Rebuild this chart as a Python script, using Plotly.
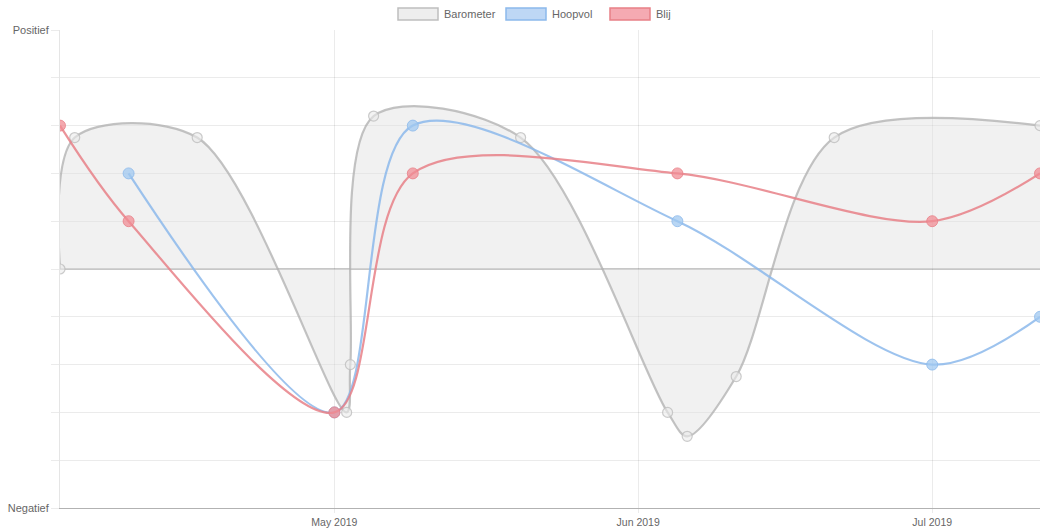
import plotly.graph_objects as go

# ---- data ----
baro_dates = ["2019-04-03", "2019-04-04 12:00", "2019-04-17", "2019-05-02 06:00",
              "2019-05-02 15:00", "2019-05-05", "2019-05-20", "2019-06-04",
              "2019-06-06", "2019-06-11", "2019-06-21", "2019-07-12"]
baro_vals = [0, 2.75, 2.75, -3, -2, 3.2, 2.75, -3, -3.5, -2.25, 2.75, 3]

hoop_dates = ["2019-04-10", "2019-05-01", "2019-05-09", "2019-06-05", "2019-07-01", "2019-07-12"]
hoop_vals = [2, -3, 3, 1, -2, -1]

blij_dates = ["2019-04-03", "2019-04-10", "2019-05-01", "2019-05-09", "2019-06-05", "2019-07-01", "2019-07-12"]
blij_vals = [3, 1, -3, 2, 2, 1, 2]

series_names = ["Barometer", "Hoopvol", "Blij"]
month_ticks = ["2019-05-01", "2019-06-01", "2019-07-01"]
month_labels = ["May 2019", "Jun 2019", "Jul 2019"]
y_ticks = [-5, -4, -3, -2, -1, 0, 1, 2, 3, 4, 5]
y_labels = ["Negatief", "", "", "", "", "", "", "", "", "", "Positief"]

W, H = 1044, 529
L, R, T, B = 60, 4, 30, 21

fig = go.Figure()

fig.add_trace(go.Scatter(
    x=baro_dates, y=baro_vals, name=series_names[0], mode="lines+markers",
    line=dict(color="rgba(175,175,175,0.75)", width=2.2, shape="spline", smoothing=0.9),
    fill="tozeroy", fillcolor="rgba(225,225,225,0.45)",
    marker=dict(size=10, color="rgba(235,235,235,0.6)",
                line=dict(color="rgba(190,190,190,0.8)", width=1.2)),
    hoverinfo="skip"))

fig.add_trace(go.Scatter(
    x=hoop_dates, y=hoop_vals, name=series_names[1], mode="lines+markers",
    line=dict(color="rgba(140,185,235,0.85)", width=2.2, shape="spline", smoothing=0.9),
    marker=dict(size=11, color="rgba(160,200,240,0.75)",
                line=dict(color="rgba(140,185,235,0.8)", width=1)),
    hoverinfo="skip"))

fig.add_trace(go.Scatter(
    x=blij_dates, y=blij_vals, name=series_names[2], mode="lines+markers",
    line=dict(color="rgba(232,128,135,0.85)", width=2.2, shape="spline", smoothing=0.9),
    marker=dict(size=11, color="rgba(240,140,148,0.75)",
                line=dict(color="rgba(232,128,135,0.8)", width=1)),
    hoverinfo="skip"))

# manual Chart.js-like legend
def px_x(p):
    return (p - L) / (W - L - R)

def px_y(p):
    return (H - B - p) / (H - T - B)

legend_items = [
    (398, "rgba(238,238,238,1)", "rgba(190,190,190,1)", series_names[0]),
    (506, "rgba(190,215,245,1)", "rgba(140,185,235,1)", series_names[1]),
    (610, "rgba(245,170,178,1)", "rgba(232,128,135,1)", series_names[2]),
]
shapes = []
annotations = []
for x0, fc, lc, name in legend_items:
    shapes.append(dict(type="rect", xref="paper", yref="paper",
                       x0=px_x(x0), x1=px_x(x0 + 40), y0=px_y(20), y1=px_y(8),
                       fillcolor=fc, line=dict(color=lc, width=1.5), layer="above"))
    annotations.append(dict(xref="paper", yref="paper", x=px_x(x0 + 44), y=px_y(14),
                            text=name, showarrow=False, xanchor="left", yanchor="middle",
                            font=dict(size=11, color="#666666")))

fig.update_layout(
    width=W, height=H,
    margin=dict(l=L, r=R, t=T, b=B),
    paper_bgcolor="white", plot_bgcolor="white",
    showlegend=False,
    font=dict(family="Liberation Sans, Arial, sans-serif", size=11, color="#666666"),
    shapes=shapes, annotations=annotations,
    xaxis=dict(type="date", range=["2019-04-03", "2019-07-12"],
               tickvals=month_ticks, ticktext=month_labels,
               showgrid=True, gridcolor="rgba(0,0,0,0.08)", gridwidth=1,
               ticks="outside", ticklen=4, tickcolor="rgba(0,0,0,0.08)",
               showline=True, linecolor="rgba(0,0,0,0.3)", linewidth=1,
               zeroline=False, automargin=False, fixedrange=True,
               tickfont=dict(size=10.5, color="#666666")),
    yaxis=dict(range=[-5, 5], tickvals=y_ticks, ticktext=y_labels,
               showgrid=True, gridcolor="rgba(0,0,0,0.08)", gridwidth=1,
               ticks="outside", ticklen=8, tickcolor="rgba(0,0,0,0.08)",
               showline=True, linecolor="rgba(0,0,0,0.1)", linewidth=1,
               zeroline=True, zerolinecolor="rgba(0,0,0,0.22)", zerolinewidth=2,
               automargin=False, fixedrange=True,
               tickfont=dict(size=11, color="#666666")),
)

fig.write_html("out.html", config={"displayModeBar": False},
               post_script="document.body.style.margin='0';document.body.style.overflow='hidden';")
